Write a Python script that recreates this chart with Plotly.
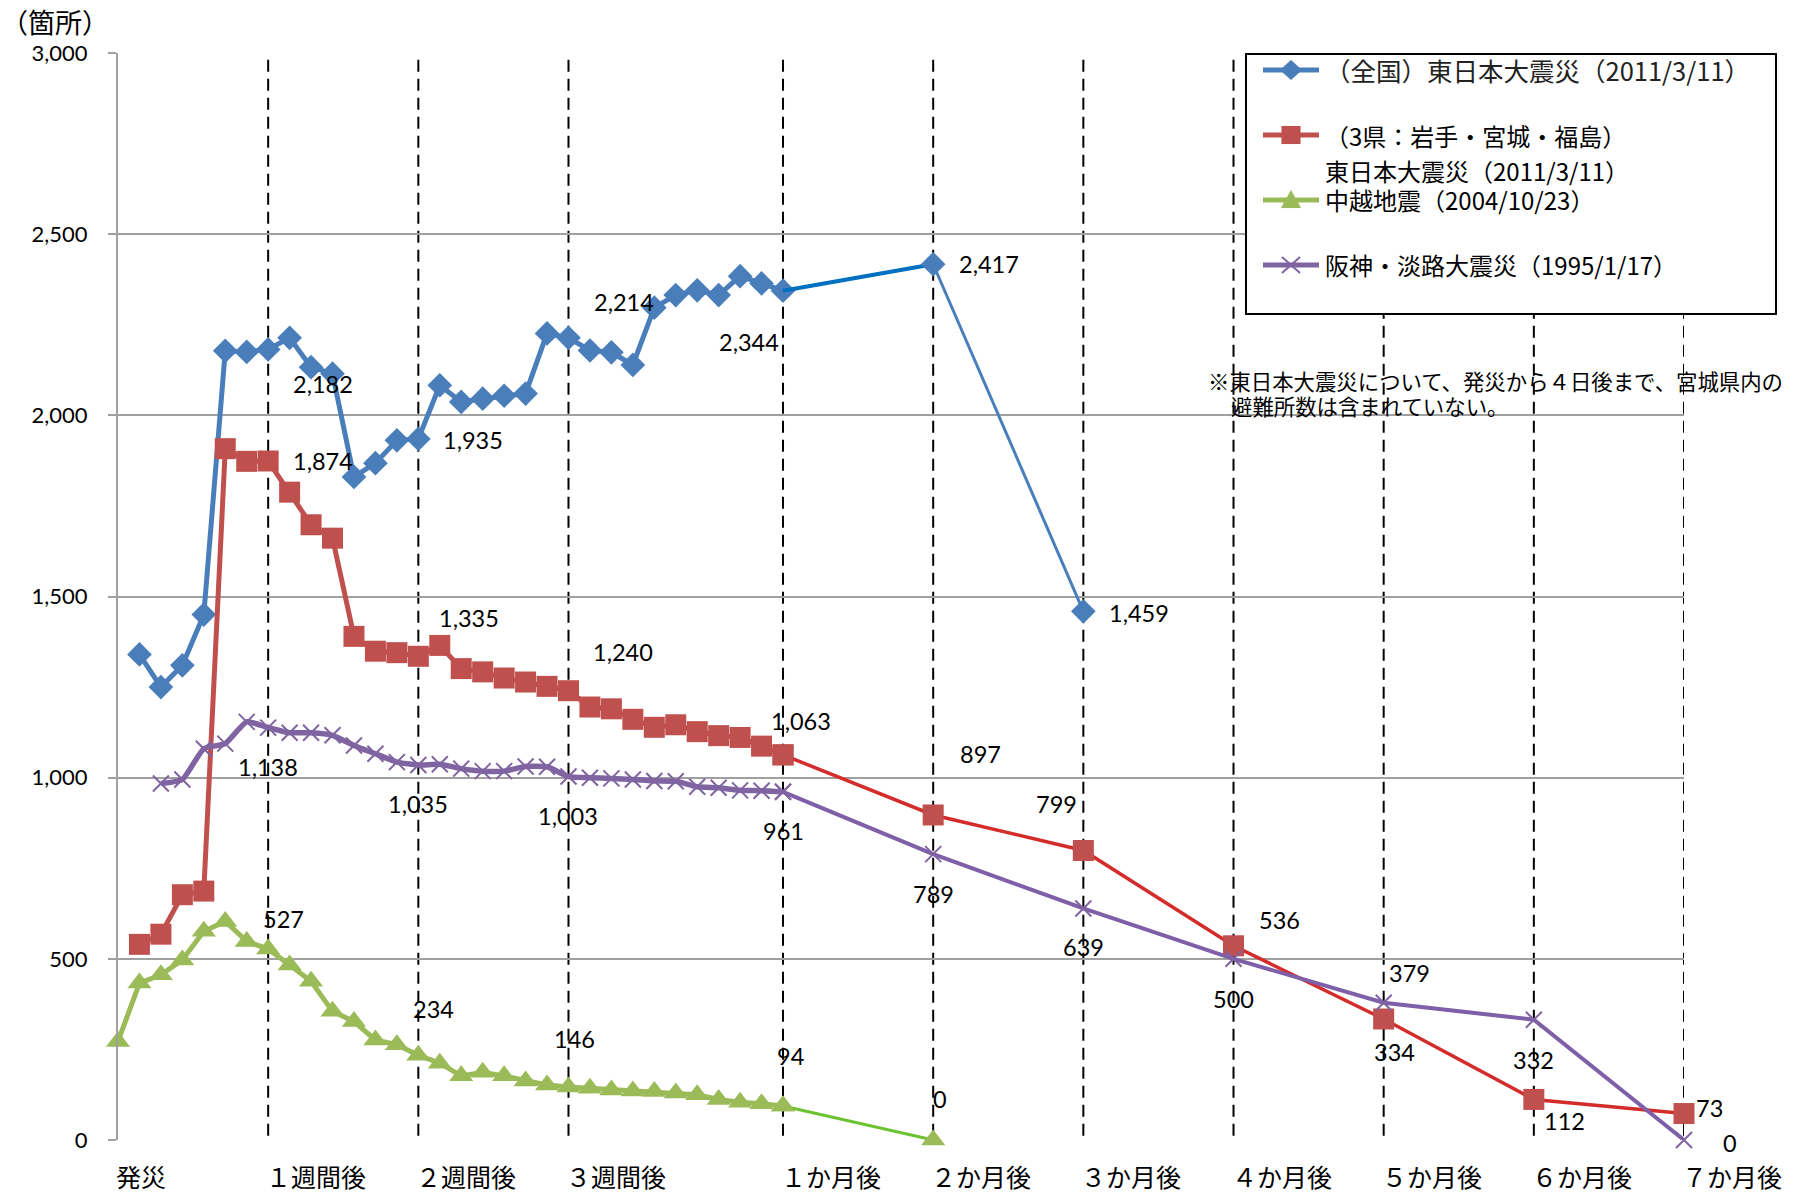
import plotly.graph_objects as go

# ---------------- data ----------------
# x = day index after the disaster (0 = 発災); monthly points are placed every 7 index units after 1か月後
tick_pos = [0, 7, 14, 21, 31, 38, 45, 52, 59, 66, 73]
tick_text = ["発災", "１週間後", "２週間後", "３週間後", "１か月後", "２か月後",
             "３か月後", "４か月後", "５か月後", "６か月後", "７か月後"]

blue_days = list(range(1, 32))
blue_daily = [1340, 1250, 1310, 1450, 2178, 2175, 2182, 2214, 2133, 2115, 1830, 1868, 1931, 1935,
              2083, 2037, 2046, 2054, 2060, 2226, 2214, 2179, 2174, 2139, 2297, 2332, 2345, 2332,
              2384, 2364, 2344]
blue_month_x = [31, 38, 45]
blue_month = [2344, 2417, 1459]

red_days = list(range(1, 32))
red_daily = [540, 568, 677, 687, 1908, 1873, 1874, 1788, 1698, 1661, 1390, 1349, 1345, 1335,
             1365, 1301, 1292, 1275, 1264, 1252, 1240, 1195, 1190, 1161, 1139, 1146, 1127, 1116,
             1111, 1087, 1063]
red_month_x = [31, 38, 45, 52, 59, 66, 73]
red_month = [1063, 897, 799, 536, 334, 112, 73]

green_days = list(range(0, 32))
green_daily = [272, 433, 456, 497, 576, 603, 548, 527, 483, 438, 355, 327, 276, 263, 234, 212,
               177, 187, 177, 163, 152, 146, 143, 138, 135, 134, 130, 125, 112, 104, 100, 94]
green_month_x = [31, 38]
green_month = [94, 0]

purple_days = list(range(2, 32))
purple_daily = [984, 995, 1080, 1094, 1154, 1138, 1124, 1124, 1117, 1089, 1066, 1043, 1035, 1037,
                1025, 1018, 1018, 1031, 1030, 1003, 1000, 998, 995, 991, 990, 975, 972, 965, 964, 961]
purple_month_x = [31, 38, 45, 52, 59, 66, 73]
purple_month = [961, 789, 639, 500, 379, 332, 0]

names = ["（全国）東日本大震災（2011/3/11）",
         "（3県：岩手・宮城・福島）<br>東日本大震災（2011/3/11）",
         "中越地震（2004/10/23）",
         "阪神・淡路大震災（1995/1/17）"]

# labelled x positions with label offsets (dx, dy in px, screen down positive)
blue_lab = {7: (55, 35), 14: (55, 1), 21: (56, -36), 31: (-34, 51), 38: (56, 0), 45: (56, 2)}
red_lab = {7: (55, 0), 14: (51, -38), 21: (55, -39), 31: (18, -34), 38: (47, -61), 45: (-27, -47),
           52: (46, -26), 59: (11, 33), 66: (31, 22), 73: (25, -6)}
purple_lab = {7: (0, 39), 14: (0, 39), 21: (0, 39), 31: (0, 39), 38: (0, 40), 45: (0, 39),
              52: (0, 40), 59: (26, -30), 66: (0, 40), 73: (46, 3)}
green_lab = {7: (15, -30), 14: (15, -46), 21: (6, -48), 31: (7, -50), 38: (7, -41)}

# ---------------- styles ----------------
W, H = 1796, 1194
L, R, T, B = 118, 112, 53, 54
PW, PH = W - L - R, H - T - B
BOTTOM = H - B

C_BLUE, C_BLUE2 = "#4A7EBB", "#0070C0"
C_RED, C_RED2 = "#C0504D", "#D42B2B"
C_GREEN, C_GREEN2 = "#9BBB59", "#6CC231"
C_PURPLE, C_PURPLE2 = "#8064A2", "#7E5FA8"

NUM_FONT = "Lato, 'Noto Sans CJK JP', sans-serif"
JP_FONT = "'Noto Sans CJK JP', sans-serif"


def px_x(p):
    return (p - L) / PW


def px_y(p):
    return (BOTTOM - p) / PH


fig = go.Figure()

# blue
fig.add_trace(go.Scatter(x=blue_days, y=blue_daily, mode="lines+markers", cliponaxis=False,
                         line=dict(color=C_BLUE, width=5),
                         marker=dict(symbol="diamond", size=19, color=C_BLUE), name=names[0]))
fig.add_trace(go.Scatter(x=blue_month_x[:2], y=blue_month[:2], mode="lines", cliponaxis=False,
                         line=dict(color=C_BLUE2, width=4), showlegend=False))
fig.add_trace(go.Scatter(x=blue_month_x[1:], y=blue_month[1:], mode="lines+markers", cliponaxis=False,
                         line=dict(color=C_BLUE, width=3),
                         marker=dict(symbol="diamond", size=19, color=C_BLUE), showlegend=False))
# red
fig.add_trace(go.Scatter(x=red_days, y=red_daily, mode="lines+markers", cliponaxis=False,
                         line=dict(color=C_RED, width=5),
                         marker=dict(symbol="square", size=21, color=C_RED), name=names[1]))
fig.add_trace(go.Scatter(x=red_month_x, y=red_month, mode="lines+markers", cliponaxis=False,
                         line=dict(color=C_RED2, width=3.5),
                         marker=dict(symbol="square", size=21, color=C_RED), showlegend=False))
# green
fig.add_trace(go.Scatter(x=green_days, y=green_daily, mode="lines+markers", cliponaxis=False,
                         line=dict(color=C_GREEN, width=5),
                         marker=dict(symbol="triangle-up", size=21, color=C_GREEN), name=names[2]))
fig.add_trace(go.Scatter(x=green_month_x, y=green_month, mode="lines+markers", cliponaxis=False,
                         line=dict(color=C_GREEN2, width=3),
                         marker=dict(symbol="triangle-up", size=21, color=C_GREEN), showlegend=False))
# purple
fig.add_trace(go.Scatter(x=purple_days, y=purple_daily, mode="lines+markers", cliponaxis=False,
                         line=dict(color=C_PURPLE, width=5.5, shape="spline", smoothing=0.5),
                         marker=dict(symbol="x-thin", size=16, color=C_PURPLE,
                                     line=dict(color=C_PURPLE, width=2)), name=names[3]))
fig.add_trace(go.Scatter(x=purple_month_x, y=purple_month, mode="lines+markers", cliponaxis=False,
                         line=dict(color=C_PURPLE2, width=4),
                         marker=dict(symbol="x-thin", size=16, color=C_PURPLE,
                                     line=dict(color=C_PURPLE, width=2)), showlegend=False))

annotations = []


def add_labels(xs, ys, offs):
    lookup = dict(zip(xs, ys))
    for xv, (dx, dy) in offs.items():
        v = lookup[xv]
        annotations.append(dict(x=xv, y=v, xref="x", yref="y", text=f"{v:,}", showarrow=False,
                                xanchor="center", yanchor="middle", xshift=dx, yshift=-dy,
                                font=dict(family=NUM_FONT, size=23.5, color="black")))


add_labels(blue_days + blue_month_x[1:], blue_daily + blue_month[1:], blue_lab)
add_labels(red_days + red_month_x[1:], red_daily + red_month[1:], red_lab)
add_labels(purple_days + purple_month_x[1:], purple_daily + purple_month[1:], purple_lab)
add_labels(green_days + green_month_x[1:], green_daily + green_month[1:], green_lab)

# x category labels
for xv, t in zip(tick_pos, tick_text):
    annotations.append(dict(x=xv, y=px_y(1176), xref="x", yref="paper", text=t, showarrow=False,
                            xanchor="left", yanchor="middle", xshift=-4,
                            font=dict(family=JP_FONT, size=25, color="black")))

# y title
annotations.append(dict(x=px_x(-1), y=px_y(22), xref="paper", yref="paper", text="（箇所）",
                        showarrow=False, xanchor="left", yanchor="middle",
                        font=dict(family=JP_FONT, size=27, color="black")))

# note
annotations.append(dict(x=px_x(1206), y=px_y(380), xref="paper", yref="paper",
                        text="※東日本大震災について、発災から４日後まで、宮城県内の",
                        showarrow=False, xanchor="left", yanchor="middle",
                        font=dict(family=JP_FONT, size=21.4, color="black")))
annotations.append(dict(x=px_x(1229), y=px_y(405), xref="paper", yref="paper",
                        text="避難所数は含まれていない。",
                        showarrow=False, xanchor="left", yanchor="middle",
                        font=dict(family=JP_FONT, size=21.4, color="black")))

shapes = []
# dashed period lines
for xv in tick_pos[1:]:
    shapes.append(dict(type="line", xref="x", yref="paper", x0=xv, x1=xv, y0=0.004, y1=1,
                       line=dict(color="black", width=2, dash="12px,7px"), layer="between"))

# manual legend box
shapes.append(dict(type="rect", xref="paper", yref="paper", x0=px_x(1246), x1=px_x(1776),
                   y0=px_y(314), y1=px_y(54), line=dict(color="black", width=2),
                   fillcolor="white", layer="above"))

legend_items = [
    (C_BLUE, "M0,10 L11,0 L0,-10 L-11,0 Z", 70, [(names[0], 70, 25.5)], "#222222"),
    (C_RED, "M-9.5,-9 L9.5,-9 L9.5,9 L-9.5,9 Z", 135,
     [("（3県：岩手・宮城・福島）", 135, 24), ("東日本大震災（2011/3/11）", 170, 24)], "black"),
    (C_GREEN, "M-10,-8 L10,-8 L0,10 Z", 200, [(names[2], 200, 24)], "black"),
    (C_PURPLE, "M-9,-8 L9,8 M-9,8 L9,-8", 265, [(names[3], 265, 24)], "black"),
]
for color, path, ypx, texts, tcol in legend_items:
    shapes.append(dict(type="line", xref="paper", yref="paper", x0=px_x(1263), x1=px_x(1319),
                       y0=px_y(ypx), y1=px_y(ypx), line=dict(color=color, width=5), layer="above"))
    is_x = path.count("M") > 1
    shapes.append(dict(type="path", xref="paper", yref="paper", xsizemode="pixel", ysizemode="pixel",
                       xanchor=px_x(1291), yanchor=px_y(ypx), path=path,
                       fillcolor=None if is_x else color,
                       line=dict(color=color, width=2 if is_x else 0.1), layer="above"))
    for t, ty, fs in texts:
        annotations.append(dict(x=px_x(1323), y=px_y(ty), xref="paper", yref="paper", text=t,
                                showarrow=False, xanchor="left", yanchor="middle",
                                font=dict(family=JP_FONT, size=fs, color=tcol)))

fig.update_layout(
    width=W, height=H,
    margin=dict(l=L, r=R, t=T, b=B, pad=0),
    paper_bgcolor="white", plot_bgcolor="white",
    showlegend=False,
    annotations=annotations,
    shapes=shapes,
    xaxis=dict(range=[0, 73], showgrid=False, zeroline=False, showticklabels=False,
               showline=False, ticks="", automargin=False, fixedrange=True),
    yaxis=dict(range=[0, 3000], tickvals=[0, 500, 1000, 1500, 2000, 2500, 3000], tickformat=",",
               showgrid=True, gridcolor="#A0A0A0", gridwidth=2, zeroline=False,
               showline=True, linecolor="#A0A0A0", linewidth=2,
               ticks="outside", ticklen=8, tickcolor="#A0A0A0", tickwidth=2,
               ticklabelstandoff=16,
               tickfont=dict(family=NUM_FONT, size=22, color="black"), automargin=False),
)

fig.write_html("out.html")
